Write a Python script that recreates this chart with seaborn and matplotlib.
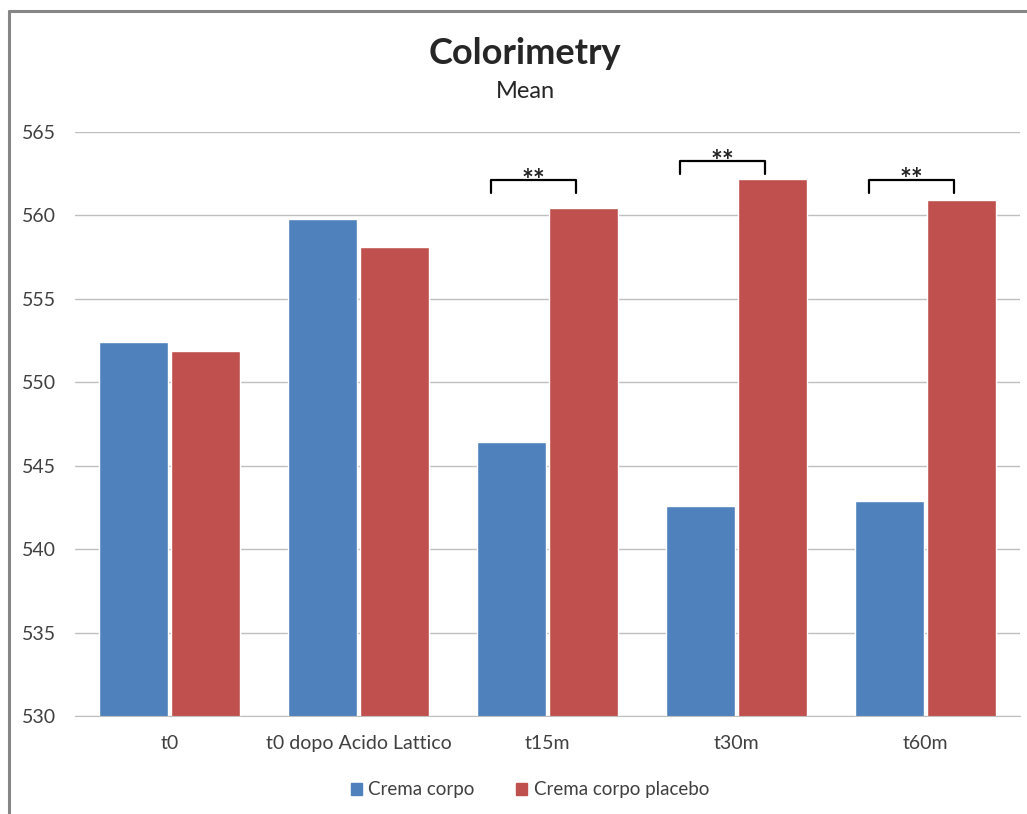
import pandas as pd
import seaborn as sns
import matplotlib.pyplot as plt
from matplotlib.lines import Line2D
from matplotlib.patches import Patch

# data
categories = ["t0", "t0 dopo Acido Lattico", "t15m", "t30m", "t60m"]
crema = [552.4, 559.8, 546.4, 542.6, 542.9]
placebo = [551.9, 558.1, 560.45, 562.2, 560.95]
series_names = ["Crema corpo", "Crema corpo placebo"]
colors = ["#4F81BD", "#C0504D"]

# significance brackets: category index and bracket height
sig_idx = [2, 3, 4]
sig_level = [562.1, 563.25, 562.15]

df = pd.DataFrame({
    "time": categories * 2,
    "value": crema + placebo,
    "group": [series_names[0]] * 5 + [series_names[1]] * 5,
})

sns.set_style("white")
plt.rcParams["font.family"] = ["Lato", "DejaVu Sans"]

fig = plt.figure(figsize=(10.27, 8.14), dpi=100)
ax = fig.add_axes([75 / 1027, 1 - 716 / 814, 945 / 1027, 584 / 814])

sns.barplot(data=df, x="time", y="value", hue="group", palette=colors,
            width=0.76, gap=0.05, saturation=1, ax=ax, legend=False)

ax.set_ylim(530, 565)
ax.set_yticks(range(530, 566, 5))
ax.set_xlim(-0.5, 4.5)
ax.grid(axis="y", color="#BFBFBF", linewidth=1)
ax.set_axisbelow(True)
for s in ["top", "right", "left"]:
    ax.spines[s].set_visible(False)
ax.spines["bottom"].set_color("#BFBFBF")
ax.tick_params(axis="y", length=0, pad=14, labelsize=14, labelcolor="#404040")
ax.tick_params(axis="x", length=0, pad=14, labelsize=14, labelcolor="#404040")
ax.set_xlabel("")
ax.set_ylabel("")

# brackets with stars
for i, lvl in zip(sig_idx, sig_level):
    x0, x1 = i - 0.30, i + 0.15
    ax.plot([x0, x0, x1, x1], [lvl - 0.78, lvl, lvl, lvl - 0.78],
            color="black", linewidth=1.6, solid_joinstyle="round")
    ax.text((x0 + x1) / 2, lvl - 0.5, "**", ha="center", va="baseline",
            fontsize=20, fontweight="bold", color="#222222")

fig.text(525 / 1027, 1 - 54 / 814, "Colorimetry", ha="center", va="center",
         fontsize=26, fontweight="bold")
fig.text(525 / 1027, 1 - 91 / 814, "Mean", ha="center", va="center", fontsize=17)

handles = [Patch(color=c, label=n) for c, n in zip(colors, series_names)]
fig.legend(handles=handles, loc="center", bbox_to_anchor=(530 / 1027, 1 - 790 / 814),
           ncol=2, frameon=False, fontsize=13.5, handlelength=0.6, handleheight=0.6,
           handletextpad=0.35, columnspacing=2.2, labelcolor="#404040")

# outer frame
fig.add_artist(Line2D([8.5 / 1027, 8.5 / 1027], [0, 1 - 10.5 / 814],
                      color="#868686", linewidth=2.2))
fig.add_artist(Line2D([8.5 / 1027, 1], [1 - 10.5 / 814, 1 - 10.5 / 814],
                      color="#868686", linewidth=2.2))

fig.savefig("out.png", dpi=100)
